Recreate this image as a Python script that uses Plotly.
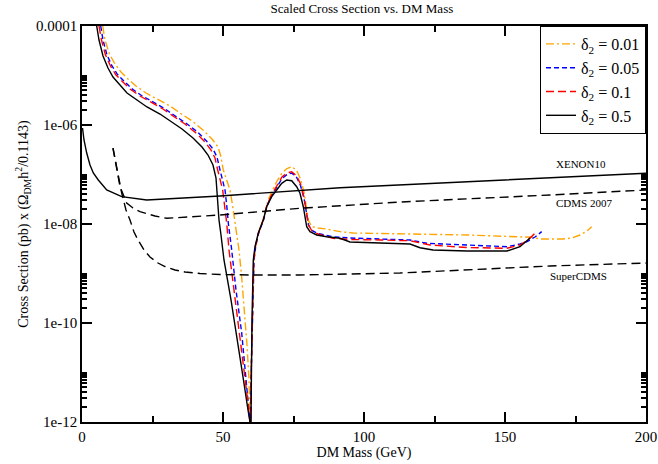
import plotly.graph_objects as go

# --- data (mass in GeV, cross section as log10 exponent) ---
d001_mass = [7.34, 8.16, 9.75, 11.70, 13.83, 16.31, 19.15, 22.70, 26.60, 31.21, 34.75, 39.01, 42.91,
             46.10, 48.23, 49.11, 50.11, 51.24, 52.48, 53.37, 54.26, 55.67, 56.56, 57.62, 58.51, 59.22,
             59.57, 59.80, 59.93, 60.46, 60.99, 61.70, 62.77, 64.54, 65.78, 67.38, 69.15, 70.92, 72.70,
             74.36, 76.13, 77.48, 78.72, 79.61, 80.32, 81.56, 83.69, 86.77, 91.49, 96.10, 112.77, 136.52,
             159.93, 162.41, 170.57, 173.76, 176.60, 179.08, 180.74]
d001_log = [-4.000, -4.283, -4.566, -4.768, -4.929, -5.071, -5.212, -5.354, -5.475, -5.616, -5.758,
            -5.919, -6.101, -6.283, -6.444, -6.606, -6.909, -7.111, -7.313, -7.616, -7.986, -8.525,
            -9.030, -9.737, -10.444, -11.152, -11.758, -12.6, -11.152, -9.939, -8.727, -8.424, -8.141,
            -7.848, -7.556, -7.333, -7.131, -6.970, -6.879, -6.842, -6.919, -7.091, -7.354, -7.677,
            -7.939, -8.055, -8.081, -8.101, -8.155, -8.182, -8.202, -8.222, -8.269, -8.303, -8.303,
            -8.283, -8.222, -8.141, -8.055]

d005_mass = [6.63, 7.45, 8.87, 10.64, 12.59, 15.07, 17.55, 21.10, 24.65, 29.26, 32.80, 37.06, 40.96,
             44.15, 46.45, 47.87, 48.94, 49.82, 50.71, 51.31, 51.88, 53.09, 54.61, 56.63, 58.97, 59.57,
             59.80, 59.93, 60.46, 60.99, 61.60, 62.66, 64.43, 65.67, 67.38, 69.15, 70.92, 72.70, 74.36,
             76.13, 77.48, 78.72, 79.61, 80.32, 81.56, 83.69, 89.01, 95.04, 105.67, 116.31, 122.34,
             136.52, 150.71, 155.32, 157.80, 160.64, 163.01]
d005_log = [-4.000, -4.283, -4.586, -4.808, -4.980, -5.121, -5.263, -5.404, -5.525, -5.667, -5.808,
            -5.970, -6.141, -6.323, -6.485, -6.646, -6.909, -7.111, -7.313, -7.616, -7.980, -8.525,
            -9.333, -10.202, -11.556, -12.0, -12.6, -11.152, -9.939, -8.727, -8.444, -8.182, -7.909,
            -7.626, -7.414, -7.232, -7.081, -7.000, -6.970, -7.061, -7.222, -7.475, -7.778, -8.020,
            -8.131, -8.192, -8.257, -8.283, -8.303, -8.323, -8.390, -8.424, -8.459, -8.404, -8.358,
            -8.263, -8.155]

d01_mass = [6.03, 6.91, 8.33, 10.11, 12.06, 14.54, 17.02, 20.57, 24.11, 28.72, 32.27, 36.52, 40.43,
            43.62, 45.74, 47.16, 48.12, 48.94, 49.89, 50.53, 51.31, 52.13, 53.90, 56.03, 58.76, 59.57,
            59.80, 59.93, 60.39, 60.92, 61.52, 62.59, 64.36, 65.60, 67.38, 69.15, 70.92, 72.70, 74.36,
            76.13, 77.48, 78.72, 79.61, 80.32, 81.56, 83.69, 89.01, 95.04, 105.67, 116.31, 123.40,
            136.52, 150.71, 155.32, 158.16, 160.64]
d01_log = [-4.000, -4.283, -4.586, -4.808, -4.990, -5.131, -5.273, -5.414, -5.535, -5.677, -5.818,
           -5.980, -6.162, -6.343, -6.505, -6.667, -6.909, -7.111, -7.313, -7.616, -7.980, -8.525,
           -9.333, -10.202, -11.556, -12.0, -12.6, -11.152, -9.939, -8.727, -8.444, -8.182, -7.899,
           -7.616, -7.394, -7.212, -7.051, -6.970, -6.943, -7.030, -7.192, -7.455, -7.758, -8.020,
           -8.141, -8.202, -8.289, -8.313, -8.323, -8.337, -8.424, -8.475, -8.491, -8.424, -8.323,
           -8.188]

d05_mass = [5.21, 6.03, 7.45, 9.22, 10.99, 13.48, 15.96, 19.50, 23.05, 27.66, 31.21, 35.46, 39.36,
            42.55, 44.68, 46.45, 47.52, 48.05, 48.58, 49.29, 50.35, 52.84, 55.14, 57.27, 58.87, 59.57,
            59.80, 59.93, 60.28, 60.74, 61.35, 62.52, 64.29, 65.50, 67.27, 69.04, 70.82, 72.59, 74.36,
            76.13, 77.30, 78.48, 79.08, 79.68, 80.85, 83.23, 86.77, 91.49, 95.04, 106.74, 116.31,
            119.86, 124.47, 136.52, 150.71, 155.32, 158.87]
d05_log = [-4.000, -4.283, -4.606, -4.848, -5.030, -5.192, -5.354, -5.495, -5.636, -5.778, -5.919,
           -6.081, -6.263, -6.444, -6.606, -6.808, -7.071, -7.515, -7.919, -8.222, -8.727, -9.535,
           -10.343, -11.152, -11.758, -12.0, -12.6, -11.152, -9.939, -8.727, -8.459, -8.182, -7.919,
           -7.651, -7.448, -7.313, -7.178, -7.111, -7.125, -7.246, -7.380, -7.651, -7.853, -8.055,
           -8.156, -8.222, -8.257, -8.289, -8.364, -8.384, -8.404, -8.479, -8.525, -8.545, -8.545,
           -8.459, -8.283]

xenon_mass = [0.18, 0.71, 1.67, 2.84, 4.01, 5.78, 8.76, 14.08, 22.94, 33.58, 48.94, 91.49, 155.32, 200]
xenon_log = [-6.061, -6.303, -6.566, -6.808, -6.970, -7.111, -7.313, -7.448, -7.515, -7.481, -7.434,
             -7.267, -7.097, -6.976]

cdms_mass = [10.99, 12.41, 13.48, 15.85, 18.09, 20.57, 25.89, 30.04, 39.36, 48.94, 77.30, 112.77, 165.96, 200]
cdms_log = [-6.465, -6.909, -7.246, -7.576, -7.677, -7.752, -7.838, -7.885, -7.859, -7.818, -7.683,
            -7.556, -7.414, -7.313]

super_mass = [10.99, 12.41, 14.08, 15.60, 17.02, 18.44, 19.86, 21.99, 24.11, 26.95, 29.43, 32.98, 36.52,
              41.84, 48.94, 59.57, 77.30, 112.77, 165.96, 200]
super_log = [-6.465, -6.869, -7.374, -7.717, -7.919, -8.162, -8.323, -8.525, -8.667, -8.788, -8.859,
             -8.929, -8.970, -9.000, -9.020, -9.030, -9.030, -8.990, -8.848, -8.788]

series = [
    ('δ<sub>2</sub> = 0.01', d001_mass, d001_log, '#ffa500', '8px,3px,2px,3px'),
    ('δ<sub>2</sub> = 0.05', d005_mass, d005_log, '#0000ff', '5px,3px'),
    ('δ<sub>2</sub> = 0.1', d01_mass, d01_log, '#ff0000', '8px,4px'),
    ('δ<sub>2</sub> = 0.5', d05_mass, d05_log, '#000000', 'solid'),
]

limits = [
    (xenon_mass, xenon_log, 'solid'),
    (cdms_mass, cdms_log, '9px,5px'),
    (super_mass, super_log, '9px,5px'),
]

serif = 'Liberation Serif, Times New Roman, serif'

fig = go.Figure()

for name, xs, ls, color, dash in series:
    fig.add_trace(go.Scatter(
        x=xs, y=[10 ** v for v in ls], mode='lines', name=name,
        line=dict(color=color, width=1.4, dash=dash),
    ))

for xs, ls, dash in limits:
    fig.add_trace(go.Scatter(
        x=xs, y=[10 ** v for v in ls], mode='lines', showlegend=False,
        line=dict(color='black', width=1.4, dash=dash),
    ))

labels = [('XENON10', 177, -6.79), ('CDMS 2007', 178, -7.58), ('SuperCDMS', 176, -9.06)]
for text, lx, ly in labels:
    fig.add_annotation(x=lx, y=ly, text=text, showarrow=False,
                       font=dict(family=serif, size=11, color='black'))

major = [1e-12, 1e-10, 1e-8, 1e-6, 1e-4]
minor_vals = [m * k for m in major[:-1] for k in range(2, 11)]

fig.update_layout(
    template='none',
    width=658, height=464,
    margin=dict(l=82, r=12, t=26, b=42),
    paper_bgcolor='white', plot_bgcolor='white',
    font=dict(family=serif, size=14, color='black'),
    title=dict(text='Scaled Cross Section vs. DM Mass', x=0.55, xanchor='center',
               y=1, yanchor='top', pad=dict(t=4), font=dict(size=13)),
    legend=dict(x=1, xanchor='right', y=1, yanchor='top', bordercolor='black', borderwidth=1,
                bgcolor='white', font=dict(size=16), itemwidth=30, tracegroupgap=0),
    showlegend=True,
)

fig.update_xaxes(
    range=[0, 200], showgrid=False, zeroline=False, automargin=False,
    showline=True, linecolor='black', linewidth=1.5, mirror='allticks',
    ticks='inside', ticklen=10, tickcolor='black', tickwidth=1.5,
    dtick=50, tick0=0,
    minor=dict(dtick=25, tick0=0, ticklen=6, ticks='inside', tickcolor='black', tickwidth=1.5),
    tickfont=dict(size=15),
    title=dict(text='DM Mass (GeV)', font=dict(size=14), standoff=0),
)

fig.update_yaxes(
    type='log', range=[-12, -4], showgrid=False, zeroline=False, automargin=False,
    showline=True, linecolor='black', linewidth=1.5, mirror='allticks',
    ticks='inside', ticklen=10, tickcolor='black', tickwidth=1.5,
    tickmode='array', tickvals=major, ticktext=['1e-12', '1e-10', '1e-08', '1e-06', '0.0001'],
    minor=dict(tickmode='array', tickvals=minor_vals, ticklen=5, ticks='inside',
               tickcolor='black', tickwidth=1.5),
    tickfont=dict(size=15),
    title=dict(text='Cross Section (pb) x (Ω<sub>DM</sub>h<sup>2</sup>/0.1143)',
               font=dict(size=14), standoff=4),
)

fig.write_html('out.html', config={'displayModeBar': False},
               post_script="document.body.style.margin='0';")
